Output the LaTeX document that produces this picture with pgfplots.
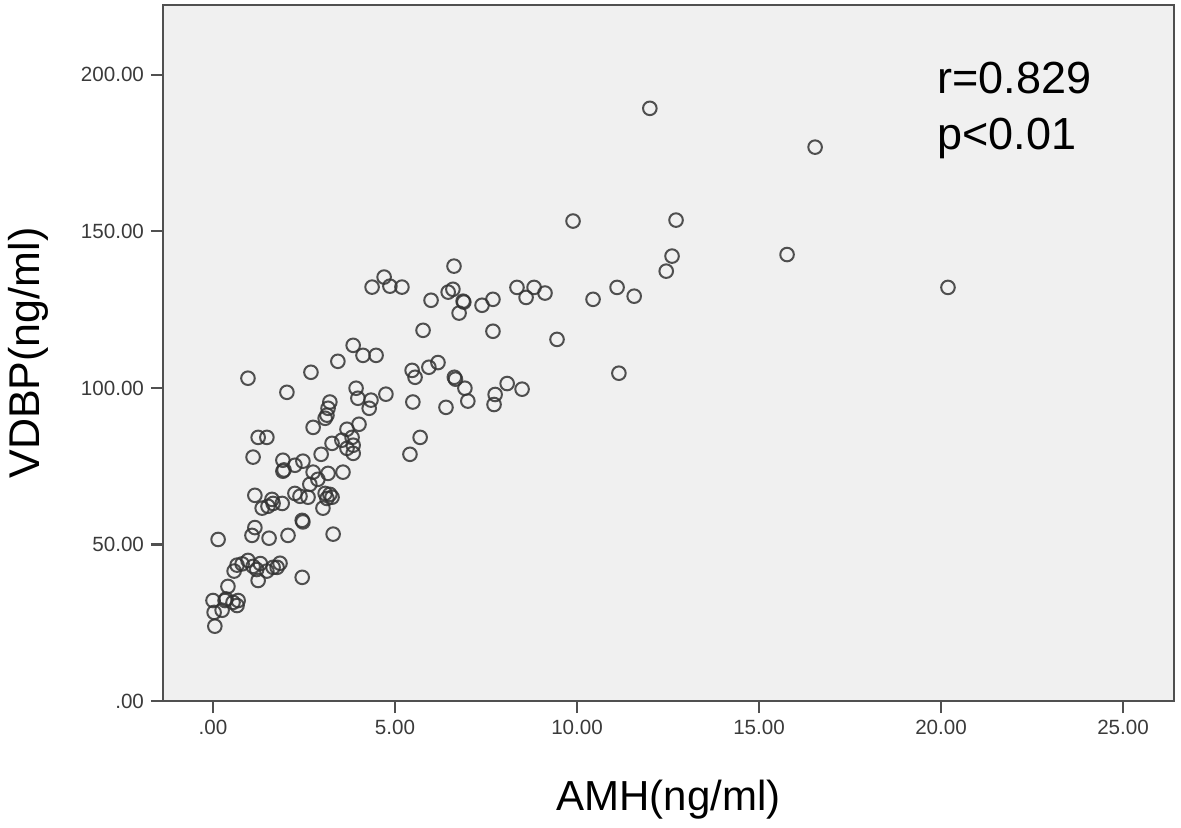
\documentclass[border=0pt]{standalone}
\usepackage{pgfplots}
\pgfplotsset{compat=1.18}
\usepackage{fontspec}
\setmainfont{Liberation Sans}
\definecolor{bgc}{HTML}{F0F0F0}
\definecolor{framec}{HTML}{505050}
\definecolor{tickc}{HTML}{3A3A3A}
\begin{document}
\begin{tikzpicture}
\begin{axis}[
  at={(0,0)}, anchor=south west,
  scale only axis,
  width=505.5pt, height=348pt,
  xmin=-1.374, xmax=26.4,
  ymin=0, ymax=222.3,
  axis background/.style={fill=bgc},
  axis line style={framec, line width=1.3pt},
  xtick={0,5,10,15,20,25},
  xticklabels={.00,5.00,10.00,15.00,20.00,25.00},
  ytick={0,50,100,150,200},
  yticklabels={.00,50.00,100.00,150.00,200.00},
  tick align=outside,
  major tick length=6pt,
  tick style={framec, line width=1.1pt},
  xtick pos=bottom, ytick pos=left,
  ticklabel style={font=\fontsize{10.3}{12}\selectfont, text=tickc},
  yticklabel style={anchor=east, xshift=0pt},
  xticklabel style={anchor=north, yshift=0pt},
  xlabel={AMH(ng/ml)},
  ylabel={VDBP(ng/ml)},
  xlabel style={font=\fontsize{21}{24}\selectfont, at={(axis description cs:0.5,-0.1422)}, anchor=center},
  ylabel style={font=\fontsize{21.5}{24}\selectfont, at={(axis description cs:-0.1335,0.5)}, anchor=center, rotate=0},
  clip=false,
]
\addplot[only marks, mark=o, mark size=3.4pt, mark options={draw=black!80, line width=1pt, draw opacity=0.85}] coordinates {
(12.00,189.3) (16.54,176.9) (9.89,153.3) (12.72,153.6) (15.77,142.6)
(12.61,142.1) (12.45,137.3) (20.19,132.1) (11.10,132.1) (11.57,129.3)
(10.44,128.3) (9.45,115.5) (11.15,104.7) (6.62,138.9) (4.70,135.4)
(4.86,132.5) (5.19,132.2) (4.37,132.2) (5.99,128.0) (6.46,130.6)
(6.59,131.5) (6.87,127.7) (6.89,127.4) (6.76,123.9) (7.39,126.4)
(7.69,128.3) (8.35,132.1) (8.60,128.9) (8.82,132.1) (9.12,130.3)
(5.77,118.4) (7.69,118.1) (3.85,113.6) (4.12,110.4) (4.48,110.4)
(3.43,108.5) (2.69,105.0) (5.47,105.6) (5.55,103.4) (5.93,106.6)
(6.18,108.1) (6.63,103.4) (6.66,102.8) (6.92,99.9) (8.08,101.4)
(8.49,99.6) (7.75,97.9) (7.72,94.7) (7.00,95.8) (6.40,93.8)
(5.49,95.5) (4.75,98.0) (3.93,99.9) (3.98,96.7) (4.34,96.1)
(4.29,93.5) (3.21,95.5) (3.16,93.5) (3.13,91.3) (3.08,90.3)
(2.75,87.4) (4.01,88.4) (3.68,86.8) (0.96,103.1) (2.03,98.6)
(1.24,84.2) (1.48,84.2) (5.69,84.2) (5.41,78.8) (1.10,77.9)
(1.92,76.9) (1.92,73.4) (1.95,73.8) (2.25,75.3) (2.47,76.6)
(2.75,73.1) (3.16,72.7) (3.57,73.1) (2.97,78.8) (3.27,82.3)
(3.54,83.3) (3.82,84.2) (3.68,80.7) (3.85,81.7) (3.85,79.1)
(2.66,69.2) (2.88,70.8) (1.15,65.7) (1.35,61.6) (1.51,62.2)
(1.65,63.1) (1.90,63.1) (1.62,64.4) (2.25,66.3) (2.39,65.4)
(2.61,65.1) (3.08,66.3) (3.21,66.0) (3.13,64.7) (3.27,65.1)
(3.02,61.6) (2.45,57.7) (2.47,57.2) (1.15,55.4) (1.07,52.9)
(1.54,52.0) (2.06,52.9) (0.14,51.6) (3.30,53.3)
(0.58,41.5) (0.66,43.4) (0.80,43.8) (0.96,44.9) (1.30,43.9)
(1.24,38.5) (1.48,41.5) (1.65,42.7) (1.84,44.0) (1.76,42.7)
(2.45,39.5) (1.10,43.0) (1.20,42.0) (0.41,36.6) (0.00,32.1)
(0.33,32.1) (0.55,31.5) (0.69,32.1) (0.66,30.5) (0.25,29.0)
(0.03,28.3) (0.05,23.9) (0.36,32.6)
};
\node[anchor=base west, font=\fontsize{22.5}{26}\selectfont, inner sep=0pt] at (axis cs:19.89,194.1) {r=0.829};
\node[anchor=base west, font=\fontsize{22.5}{26}\selectfont, inner sep=0pt] at (axis cs:19.89,176.0) {p<0.01};
\end{axis}
\pgfresetboundingbox
\useasboundingbox (-81.5pt,-63pt) rectangle (509pt,350.5pt);
\end{tikzpicture}
\end{document}
